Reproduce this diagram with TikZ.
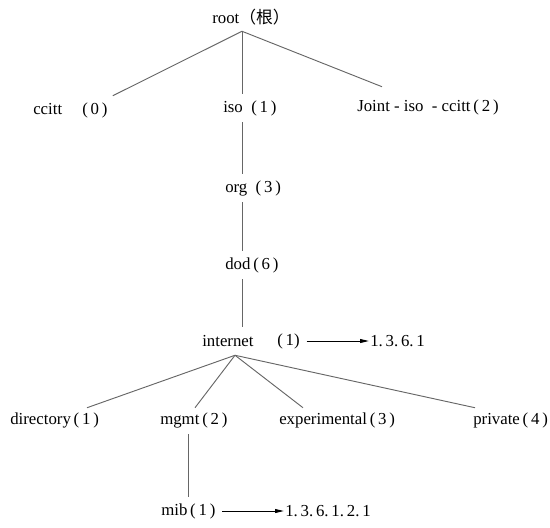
\documentclass[tikz,border=0pt]{standalone}
\usepackage{fontspec}
\setmainfont{Liberation Serif}
\newfontfamily\cjk{Noto Sans CJK SC}
\usetikzlibrary{arrows.meta, positioning, calc}
\tikzset{
  >=Stealth,
  lbl/.style     = {anchor=west, inner sep=0pt, minimum height=21pt,
                    font=\fontsize{12.6}{15}\selectfont},
  branch/.style  = {draw=black!60, line width=0.7pt},
  pointer/.style = {-{Triangle[length=6.5pt, width=3pt]}, line width=0.6pt,
                    shorten <=5pt, shorten >=1pt},
}

\begin{document}
\begin{tikzpicture}[x=0.75pt, y=-0.75pt]
  \useasboundingbox (0,0) rectangle (550,528);

  % =====================================================================
  % top of the tree
  % =====================================================================
  \node[lbl] (root)  at (212,17)  {root{\cjk （根）}};
  \coordinate (rt) at ([shift={(30,0)}]root.south west);

  \node[lbl] (ccitt) at (33,110)  {ccitt\hspace{1.2em}(\,0\,)};
  \node[lbl] (iso)   at (223,108) {iso\enspace(\,1\,)};
  \node[lbl] (joint) at (357,107) {Joint - iso\enspace - ccitt\,(\,2\,)};

  \draw[branch] (rt) -- ([shift={(5,0)}]ccitt.north east);
  \draw[branch] (rt) -- (rt |- iso.north);
  \draw[branch] (rt) -- ([shift={(25,-6)}]joint.north west);

  % =====================================================================
  % iso -> org -> dod -> internet
  % =====================================================================
  \node[lbl] (org)      at (225,188) {org\enspace(\,3\,)};
  \node[lbl] (dod)      at (225,265) {dod\,(\,6\,)};
  \node[lbl] (internet) at (202,341) {internet};
  \node[lbl] (inetnum)  at (277,341) {(\,1)};
  \node[lbl] (oidinet)  at (370,341) {1.\,3.\,6.\,1};

  \draw[branch] (rt |- iso.south) -- (rt |- org.north);
  \draw[branch] (rt |- org.south) -- (rt |- dod.north);
  \draw[branch] (rt |- dod.south) -- (rt |- internet.north);
  \draw[pointer] (inetnum.east) -- (oidinet.west);

  % =====================================================================
  % under internet
  % =====================================================================
  \coordinate (it) at ([shift={(33,0)}]internet.south west);

  \node[lbl] (directory)    at (10,420)  {directory\,(\,1\,)};
  \node[lbl] (mgmt)         at (160,420) {mgmt\,(\,2\,)};
  \node[lbl] (experimental) at (279,420) {experimental\,(\,3\,)};
  \node[lbl] (private)      at (473,420) {private\,(\,4\,)};

  \draw[branch] (it) -- ([shift={(77,2)}]directory.north west);
  \draw[branch] (it) -- ([shift={(35,2)}]mgmt.north west);
  \draw[branch] (it) -- ([shift={(24,2)}]experimental.north west);
  \draw[branch] (it) -- ([shift={(2,2)}]private.north west);

  % mgmt -> mib
  \node[lbl] (mib)    at (161,511) {mib\,(\,1\,)};
  \node[lbl] (oidmib) at (285,511) {1.\,3.\,6.\,1.\,2.\,1};

  \draw[branch] (mib.north |- mgmt.south) -- (mib.north);
  \draw[pointer] (mib.east) -- (oidmib.west);

\end{tikzpicture}
\end{document}
